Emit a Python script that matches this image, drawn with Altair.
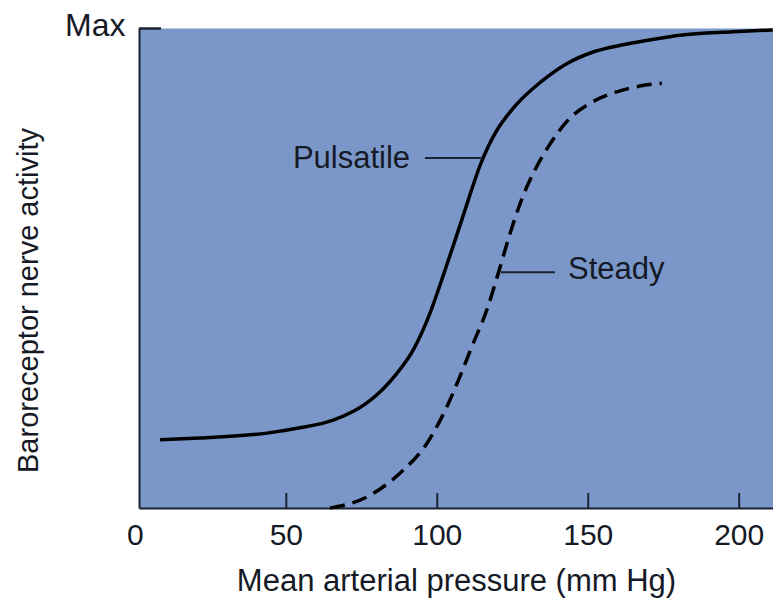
import altair as alt
import pandas as pd

# Data
pulsatile_x = [8.2, 21.4, 43.6, 54.5, 65.5, 76.7, 81.7, 86.7, 92.0, 97.6, 101.9, 105.9, 109.2, 111.8, 114.1,
               116.8, 119.8, 123.1, 126.4, 134.0, 143.3, 151.6, 161.5, 170.4, 180.4, 197.9, 211.1]
pulsatile_y = [0.142, 0.146, 0.156, 0.167, 0.183, 0.219, 0.246, 0.281, 0.329, 0.406, 0.483, 0.558, 0.621, 0.671, 0.7125,
               0.752, 0.7875, 0.817, 0.842, 0.886, 0.927, 0.950, 0.965, 0.975, 0.985, 0.992, 0.996]

steady_x = [64.5, 76.7, 87.7, 96.6, 104.2, 107.5, 111.9, 116.4, 120.2, 124.1, 127.9, 132.9, 136.8,
            143.9, 150.6, 159.4, 167.1, 174.4]
steady_y = [0.0, 0.023, 0.073, 0.135, 0.225, 0.274, 0.343, 0.4125, 0.489, 0.572, 0.642, 0.711, 0.753,
            0.812, 0.843, 0.867, 0.879, 0.885]

x_ticks = [0, 50, 100, 150, 200]
tick_marks = [50, 100, 150, 200]

labels = ["Pulsatile", "Steady"]
label_x = [91.0, 143.3]
label_y = [0.727, 0.495]
leader_x = [95.9, 121.0]
leader_x2 = [114.8, 139.0]
leader_y = [0.729, 0.491]

FONT = "Liberation Sans"
TXT = "#151a26"
AX = "#1b2233"
W, H = 634, 480

xs = alt.Scale(domain=[1.2, 211.2], nice=False, zero=False)
ys = alt.Scale(domain=[0, 1], nice=False)

pdf = pd.DataFrame({"x": pulsatile_x, "y": pulsatile_y})
sdf = pd.DataFrame({"x": steady_x, "y": steady_y})

base_x = alt.X("x:Q", scale=xs, axis=alt.Axis(
    labels=False, ticks=False, tickSize=0, grid=False, domainColor=AX, domainWidth=2,
    title="Mean arterial pressure (mm Hg)", titleFont=FONT, titleFontSize=31,
    titleFontWeight="normal", titleColor=TXT, titleBaseline="alphabetic", titleY=82))
base_y = alt.Y("y:Q", scale=ys, axis=alt.Axis(
    values=[1], labelExpr="'Max'", ticks=False, tickSize=0, labelPadding=14,
    labelFont=FONT, labelFontSize=32, labelColor=TXT, labelBaseline="middle", labelOffset=-3,
    grid=False, domainColor=AX, domainWidth=2,
    title="Baroreceptor nerve activity", titleFont=FONT, titleFontSize=29,
    titleFontWeight="normal", titleColor=TXT, titleX=-96, titleY=272, titleBaseline="bottom"))

puls = alt.Chart(pdf).mark_line(color="#000000", strokeWidth=3.5, interpolate="monotone").encode(x=base_x, y=base_y)
stead = alt.Chart(sdf).mark_line(color="#000000", strokeWidth=3.5, strokeDash=[15, 8],
                                 interpolate="monotone").encode(x=alt.X("x:Q", scale=xs), y=alt.Y("y:Q", scale=ys))

ldf = pd.DataFrame({"t": labels, "x": label_x, "y": label_y, "lx": leader_x, "lx2": leader_x2, "ly": leader_y})
leaders = alt.Chart(ldf).mark_rule(color=AX, strokeWidth=2).encode(
    x=alt.X("lx:Q", scale=xs), x2="lx2:Q", y=alt.Y("ly:Q", scale=ys))
txt_p = alt.Chart(ldf.iloc[[0]]).mark_text(align="right", baseline="middle", font=FONT, fontSize=31, color=TXT).encode(
    x=alt.X("x:Q", scale=xs), y=alt.Y("y:Q", scale=ys), text="t:N")
txt_s = alt.Chart(ldf.iloc[[1]]).mark_text(align="left", baseline="middle", font=FONT, fontSize=31, color=TXT).encode(
    x=alt.X("x:Q", scale=xs), y=alt.Y("y:Q", scale=ys), text="t:N")

tdf = pd.DataFrame({"v": tick_marks})
xticks = alt.Chart(tdf).mark_rule(color=AX, strokeWidth=2).encode(
    x=alt.X("v:Q", scale=xs), y=alt.value(H), y2=alt.value(H - 15))
maxtick = alt.Chart(pd.DataFrame({"a": [0]})).mark_rule(color=AX, strokeWidth=2.5).encode(
    x=alt.value(0), x2=alt.value(22), y=alt.value(0.5))

tl = pd.DataFrame({"v": x_ticks, "s": [str(v) for v in x_ticks]})
xlabels = alt.Chart(tl).mark_text(align="center", baseline="alphabetic", font=FONT, fontSize=30, color=TXT).encode(
    x=alt.X("v:Q", scale=xs), y=alt.value(H + 37), text="s:N")

chart = alt.layer(puls, stead, leaders, txt_p, txt_s, xticks, maxtick, xlabels).properties(
    width=W, height=H, autosize=alt.AutoSizeParams(type="none"),
    padding={"left": 131, "top": 20, "right": 0, "bottom": 92}
).configure(background="white").configure_view(fill="#7b97c9", strokeOpacity=0)

chart.save("out.html", embed_options={"renderer": "svg", "actions": False})
